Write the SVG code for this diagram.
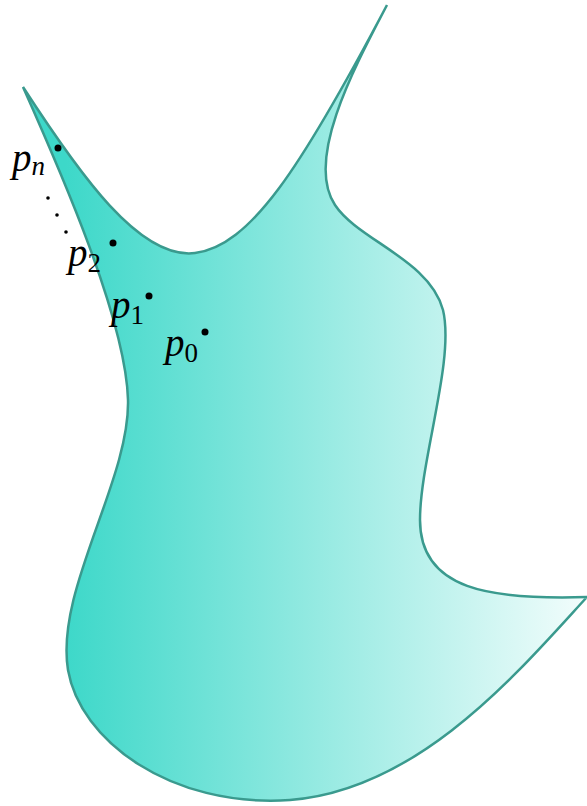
<svg xmlns="http://www.w3.org/2000/svg" width="587" height="806" viewBox="0 0 587 806">
<defs>
<linearGradient id="g" x1="65" y1="0" x2="587" y2="0" gradientUnits="userSpaceOnUse">
<stop offset="0" stop-color="#3dd8c9"/>
<stop offset="1" stop-color="#f3fdfc"/>
</linearGradient>
<style>
.lbl{font-family:"Liberation Serif","DejaVu Serif",serif;font-style:italic;font-size:39px;fill:#000}
.sub{font-family:"Liberation Serif","DejaVu Serif",serif;font-size:27px;fill:#000}
</style>
</defs>
<g id="shape">
<path d="M23,87 C80,175 140,260 195,253 C250,246 300,170 387,5 C353,70 305,160 335,205 C358,240 430,260 443,310 C455,360 420,460 420,520 C420,590 490,600 587,597 C520,670 420,790 290,800 C170,808 80,740 68,670 C55,590 130,480 128,400 C126,320 60,170 23,87 Z" fill="url(#g)" stroke="#3a9a8e" stroke-width="2.5" stroke-linejoin="miter"/>
</g>
<g id="points">
<circle cx="58" cy="148" r="3.5"/>
<circle cx="48" cy="198" r="1.8"/>
<circle cx="57" cy="215" r="1.8"/>
<circle cx="66" cy="232" r="1.8"/>
<circle cx="113" cy="243" r="3.5"/>
<circle cx="149" cy="296" r="3.5"/>
<circle cx="205" cy="332" r="3.5"/>
</g>
<g id="labels">
<text class="lbl" x="12" y="171">p<tspan class="sub" font-style="italic" dy="4">n</tspan></text>
<text class="lbl" x="68" y="266">p<tspan class="sub" font-style="normal" dy="6">2</tspan></text>
<text class="lbl" x="111" y="318">p<tspan class="sub" font-style="normal" dy="6">1</tspan></text>
<text class="lbl" x="165" y="356">p<tspan class="sub" font-style="normal" dy="6">0</tspan></text>
</g>
</svg>
